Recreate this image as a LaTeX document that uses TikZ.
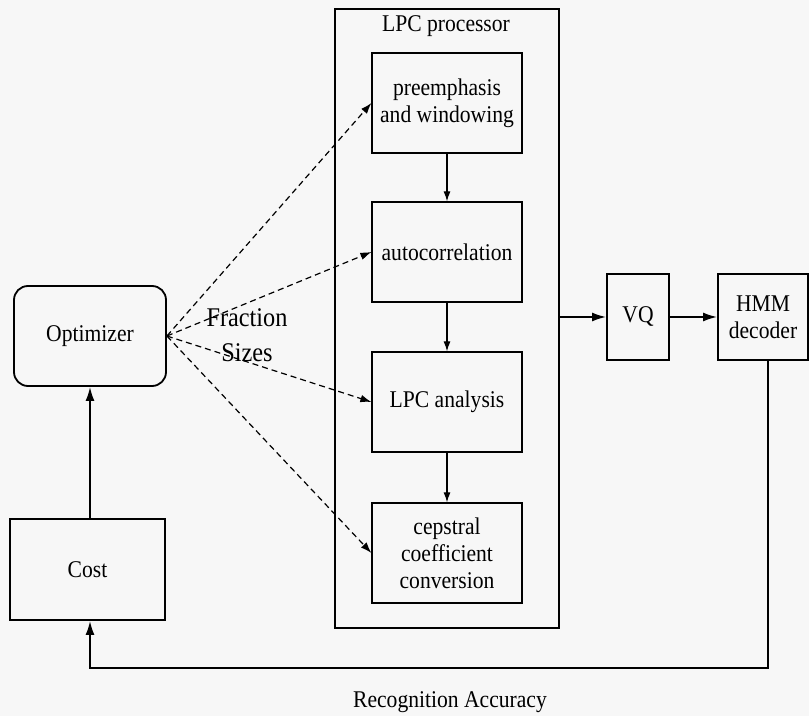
\documentclass[tikz,border=0pt]{standalone}
\usepackage{fontspec}
\setmainfont{Liberation Serif}[FakeStretch=0.9]
\usetikzlibrary{arrows.meta}
\begin{document}
\begin{tikzpicture}[x=0.5pt,y=-0.5pt,
  font=\fontsize{12}{13.5}\selectfont,
  thickbox/.style={draw, line width=0.9pt, align=center, inner sep=0pt},
  thinbox/.style={draw, line width=0.6pt, align=center, inner sep=0pt, minimum width=75pt, minimum height=50pt},
  solidarrow/.style={line width=0.9pt, -{Latex[length=7pt,width=4.5pt]}},
  thinarrow/.style={line width=0.6pt, -{Latex[length=5pt,width=3.5pt]}},
  dasharrow/.style={line width=0.6pt, dashed, dash pattern=on 3pt off 2pt, -{Latex[length=5.5pt,width=3.8pt]}}
]
\fill[fill={rgb,255:red,247;green,247;blue,247}] (0,0) rectangle (809,716);
\useasboundingbox (0,0) rectangle (809,716);

% LPC processor outer box
\node[thickbox, minimum width=112pt, minimum height=309.5pt, anchor=north west] (lpc) at (334,8) {};
\node[anchor=center] (lpclabel) at (446,26) {LPC processor};

% inner boxes
\node[thinbox] (pre) at (447,103) {preemphasis\\and windowing};
\node[thinbox] (auto) at (447,252) {autocorrelation};
\node[thinbox] (ana) at (447,402) {LPC analysis};
\node[thinbox] (cep) at (447,553) {cepstral\\coefficient\\conversion};

\draw[thinarrow] (pre) -- (auto);
\draw[thinarrow] (auto) -- (ana);
\draw[thinarrow] (ana) -- (cep);

% Optimizer and Cost
\node[thickbox, rounded corners=7pt, minimum width=76pt, minimum height=50pt] (opt) at (90,336) {Optimizer};
\node[thickbox, minimum width=77.5pt, minimum height=50.5pt] (cost) at (87.5,569.5) {Cost};
\draw[solidarrow] (cost.north -| opt.south) -- (opt.south);

% VQ and HMM
\node[thickbox, minimum width=31pt, minimum height=43pt] (vq) at (638,317) {VQ};
\node[thickbox, minimum width=45pt, minimum height=43pt] (hmm) at (763,317) {HMM\\decoder};
\draw[solidarrow] (lpc.east |- vq.west) -- (vq.west);
\draw[solidarrow] (vq.east) -- (hmm.west);

% feedback
\coordinate (fb1) at (768,668);
\coordinate (fb2) at (90,668);
\draw[solidarrow] (hmm.south -| fb1) -- (fb1) -- (fb2) -- (cost.south -| fb2);
\node (acc) at (450,702) {Recognition Accuracy};

% dashed arrows
\draw[dasharrow] (opt.east) -- (pre.west);
\draw[dasharrow] (opt.east) -- (auto.west);
\draw[dasharrow] (opt.east) -- (ana.west);
\draw[dasharrow] (opt.east) -- (cep.west);

\node[align=center, font=\fontsize{13.5}{17.5}\selectfont] (frac) at (247,335) {Fraction\\Sizes};
\end{tikzpicture}
\end{document}
